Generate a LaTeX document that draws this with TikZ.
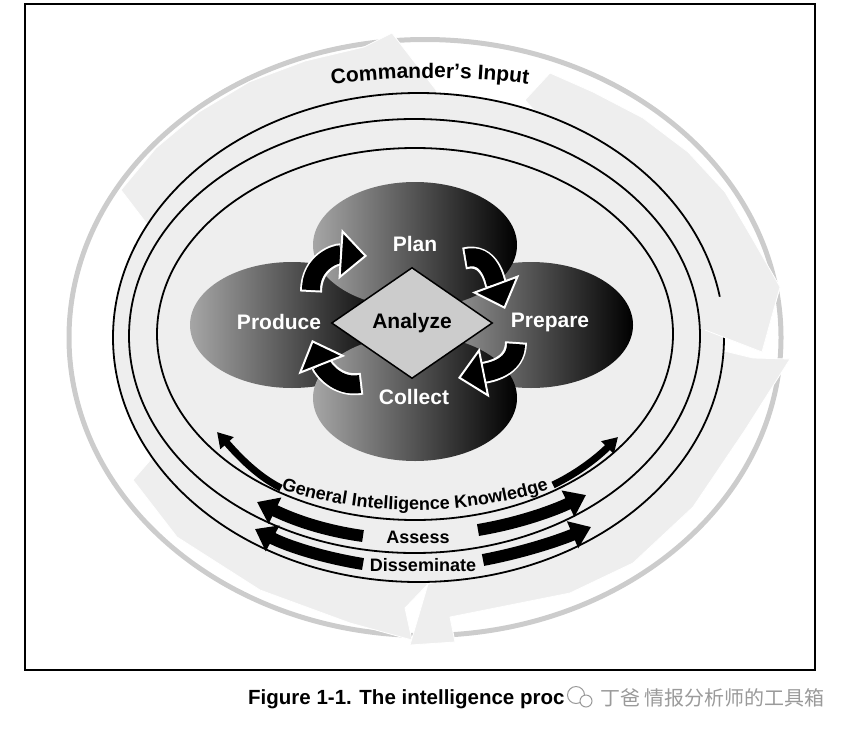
\documentclass[tikz,border=0pt]{standalone}
\usepackage{fontspec}
\setmainfont{Liberation Sans}
\newfontfamily\cjkfont{Noto Sans CJK SC}
\usetikzlibrary{shapes.geometric,arrows.meta,decorations.text}

\definecolor{bandgray}{HTML}{EEEEEE}
\definecolor{ringgray}{HTML}{CCCCCC}
\definecolor{markgray}{HTML}{9A9A9A}
\newcommand\inputfont{\fontsize{21}{21}\selectfont\bfseries}
\newcommand\ringfont{\fontsize{18}{18}\selectfont\bfseries}
\newcommand\blobfont{\fontsize{21}{21}\selectfont\bfseries}

\tikzset{
  band/.style={fill=bandgray, draw=white, line width=0.8pt, line join=round},
  orbit/.style={draw=black, line width=1.8pt},
  blob/.style={ellipse, minimum width=204pt, minimum height=126pt, inner sep=0pt, left color=black!35, right color=black},
  blobtext/.style={text=white, font=\blobfont},
  fatback/.style={white, line width=22pt, shorten <=-2pt, shorten >=26pt},
  fatarrow/.style={black, line width=18pt, -{Triangle[length=27pt,width=50pt,color=white,fill=black,line width=2pt]}},
  gikarrow/.style={line width=7pt, -{Triangle[length=15pt,width=17pt]}},
  cyclearrow/.style={line width=12pt, -{Triangle[length=20pt,width=28pt]}}
}

\begin{document}
\begin{tikzpicture}[x=1pt, y=-1pt]
\useasboundingbox (0,0) rectangle (861,736);
\draw[line width=2pt] (25,4) rectangle (815,670);

\draw[ringgray, line width=5pt] (425,337.5) ellipse [x radius=356, y radius=298];
\path[band] (147,224) -- (121,190) -- (156,148) -- (199,112) -- (249,82) -- (305,61) -- (364,47) -- (392,33) -- (436,90) -- (436,100) -- (300,120) -- (200,175) -- (150,232) -- cycle;
\path[band] (525,100) -- (550,73) -- (593,92) -- (643,118) -- (688,152) -- (725,192) -- (752,238) -- (780,287) -- (762,352) -- (705,330) -- (700,300) -- (680,230) -- (600,150) -- (540,117) -- cycle;
\path[band] (428,584) -- (405,608) -- (412,640) -- (350,623) -- (260,590) -- (177,537) -- (133,480) -- (153,457) -- (200,500) -- (300,555) -- (410,575) -- cycle;
\path[band] (720,350) -- (753,358) -- (790,359) -- (745,430) -- (693,507) -- (633,563) -- (570,593) -- (450,617) -- (455,642) -- (410,645) -- (428,584) -- (500,570) -- (600,525) -- (680,455) -- (710,395) -- cycle;

\fill[bandgray] (418.5,337.5) ellipse [x radius=305.5, y radius=244.5];
\draw[orbit] (418.5,337.5) ellipse [x radius=305.5, y radius=244.5];
\draw[orbit] (414.5,336) ellipse [x radius=285.5, y radius=217];
\draw[orbit] (415,334) ellipse [x radius=258, y radius=186];
\fill[bandgray] (700,300) -- (780,287) -- (762,352) -- (705,330) -- cycle;
\draw[white, line width=0.8pt] (705,330) -- (762,352) -- (780,287);

\path[decorate, decoration={text along path, text align=center, text={|\inputfont|Commander’s Input}}]
  plot[domain=60:120, samples=40, smooth] ({430-450*cos(\x)}, {337-259*sin(\x)});
\path[decorate, decoration={text along path, text align=center, text={|\ringfont|General Intelligence Knowledge}}]
  plot[domain=30:150, samples=40, smooth] ({415-284*cos(\x)}, {334+176*sin(\x)});

\coordinate (gikl) at (281,488);
\coordinate (gikr) at (553,485);
\coordinate (asl) at (363,536);
\coordinate (asr) at (478,530);
\coordinate (disl) at (363,564);
\coordinate (disr) at (483,560);
\draw[gikarrow] (gikl) .. controls (255,475) and (235,452) .. (217,432);
\draw[gikarrow] (gikr) .. controls (580,472) and (600,455) .. (618,437);
\draw[cyclearrow] (asl) .. controls (320,530) and (290,518) .. (257,502);
\draw[cyclearrow] (asr) .. controls (520,523) and (555,510) .. (586,495);
\draw[cyclearrow] (disl) .. controls (320,557) and (285,545) .. (255,529);
\draw[cyclearrow] (disr) .. controls (525,552) and (560,540) .. (591,527);
\node[font=\ringfont] (assess) at (418,537) {Assess};
\node[font=\ringfont] (disseminate) at (423,565) {Disseminate};

\node[blob] (produce) at (292,325) {};
\node[blob] (prepare) at (531,325) {};
\node[blob] (plan) at (415,245) {};
\node[blob] (collect) at (415,398) {};

\coordinate (a1s) at (311,290);
\coordinate (a1e) at (367,256);
\coordinate (a2s) at (466,258);
\coordinate (a2e) at (505,309);
\coordinate (a3s) at (516,344);
\coordinate (a3e) at (458,378);
\coordinate (a4s) at (360,384);
\coordinate (a4e) at (312,340);
\draw[fatback] (a1s) .. controls (311,262) and (336,254) .. (a1e);
\draw[fatarrow] (a1s) .. controls (311,262) and (336,254) .. (a1e);
\draw[fatback] (a2s) .. controls (490,252) and (495,282) .. (a2e);
\draw[fatarrow] (a2s) .. controls (490,252) and (495,282) .. (a2e);
\draw[fatback] (a3s) .. controls (516,368) and (488,372) .. (a3e);
\draw[fatarrow] (a3s) .. controls (516,368) and (488,372) .. (a3e);
\draw[fatback] (a4s) .. controls (337,388) and (323,368) .. (a4e);
\draw[fatarrow] (a4s) .. controls (337,388) and (323,368) .. (a4e);

\node[diamond, draw=black, line width=1.5pt, fill=ringgray, minimum width=161pt, minimum height=111pt, inner sep=0pt, aspect=1.45, font=\blobfont] (analyze) at (412,323) {Analyze};
\node[blobtext] (plantxt) at (415,244) {Plan};
\node[blobtext] (producetxt) at (279,322) {Produce};
\node[blobtext] (preparetxt) at (550,322) {Prepare};
\node[blobtext] (collecttxt) at (414,397) {Collect};

\node[anchor=base west, inner sep=0pt, font=\fontsize{20.5}{20.5}\selectfont\bfseries] (caption) at (248,704) {Figure 1-1. The intelligence proc};
\draw[markgray, fill=white, line width=1pt] (576,695) circle (8.5);
\draw[markgray, fill=white, line width=1pt] (586,701) circle (6);
\node[anchor=base west, inner sep=0pt, text=markgray, font=\cjkfont\fontsize{20}{20}\selectfont] (mark) at (600,705) {丁爸 情报分析师的工具箱};
\end{tikzpicture}
\end{document}
